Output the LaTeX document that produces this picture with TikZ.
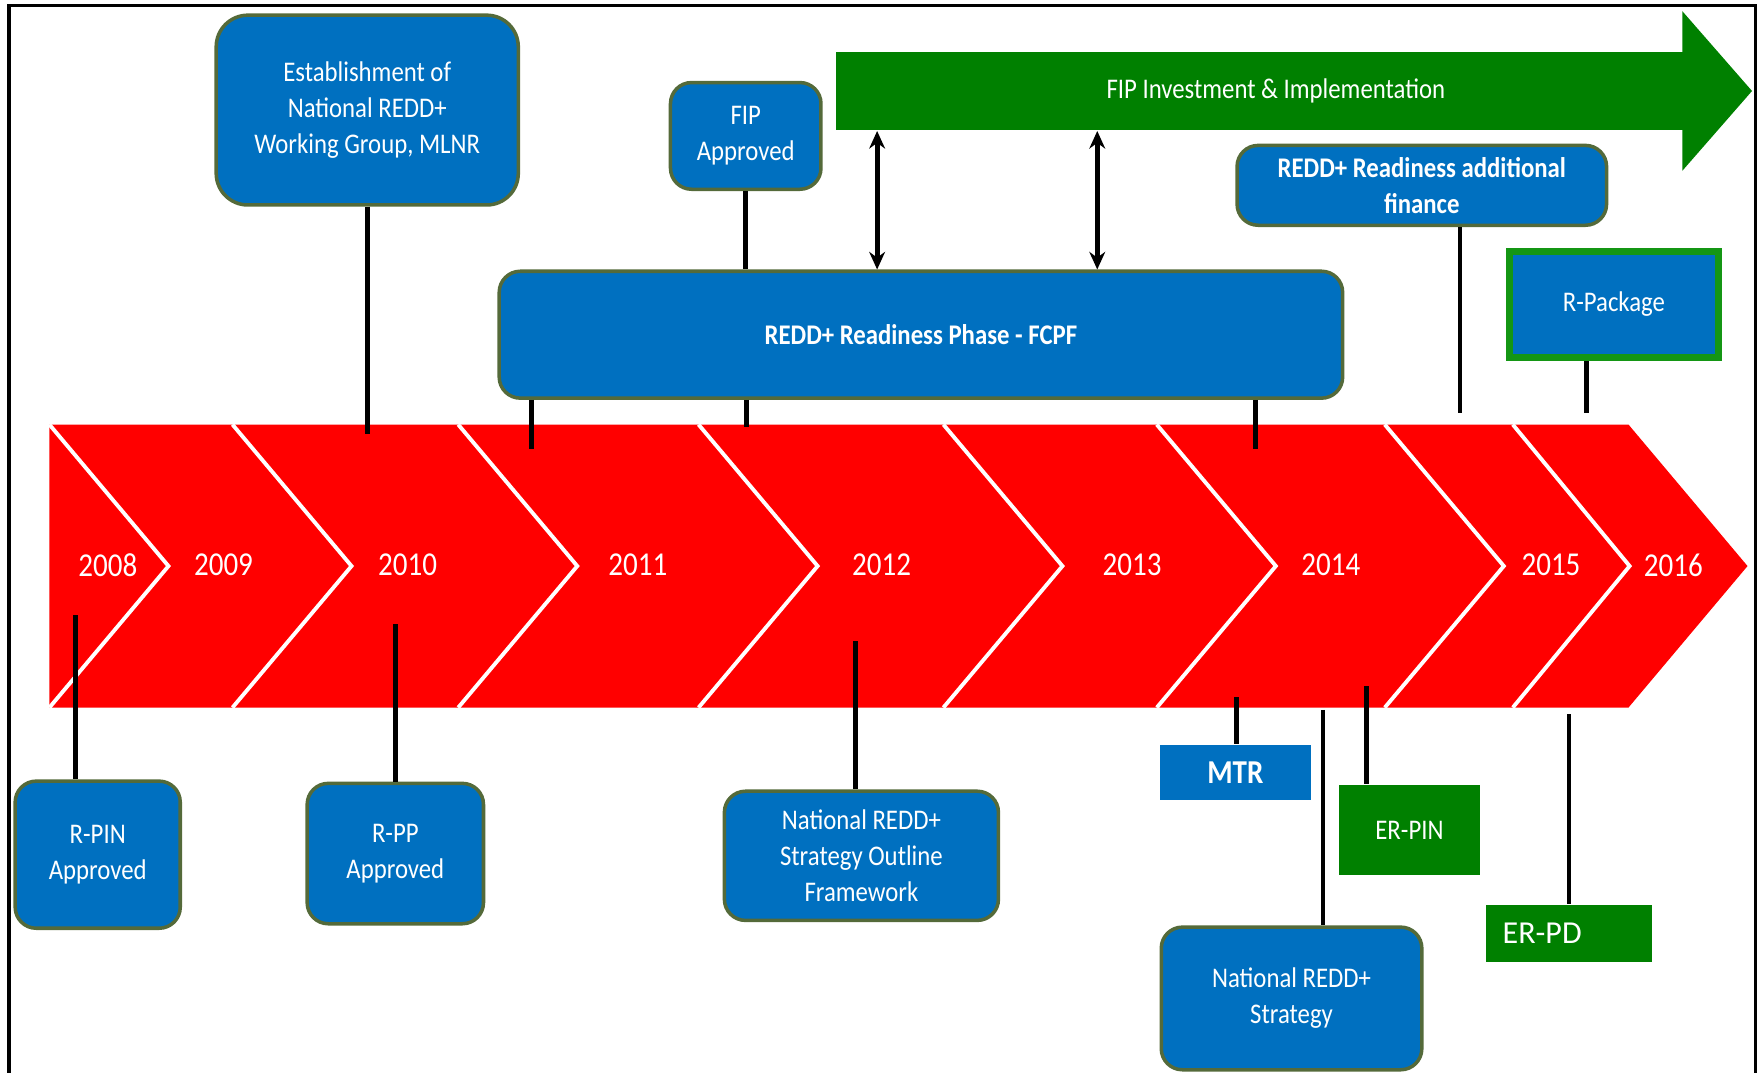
\documentclass[tikz,border=0pt]{standalone}
\usepackage{fontspec}
\setmainfont{Carlito}[FakeStretch=0.87]
\newfontfamily\plainfont{Carlito}
\usetikzlibrary{arrows.meta}
\definecolor{boxblue}{RGB}{0,112,192}
\definecolor{boxgreen}{RGB}{0,128,0}
\definecolor{bandred}{RGB}{255,0,0}
\definecolor{boxedge}{RGB}{84,106,58}
\definecolor{pkgedge}{RGB}{20,150,20}
\newcommand\pxu{0.011231cm}
\newcommand\boxfont{\fontsize{8.1}{10.3}\selectfont}
\newcommand\yearfont{\fontsize{9.5}{11}\selectfont}
\tikzset{
  boxsize/.style 2 args={minimum width=#1*\pxu, minimum height=#2*\pxu},
  stem/.style={draw=black, line width=1.4pt},
}
\begin{document}
\begin{tikzpicture}[x=\pxu, y=-\pxu]
  \useasboundingbox (0,0) rectangle (1568,955);
  \draw[line width=1pt] (8,955) -- (8,5) -- (1563,5) -- (1563,955);
  \begin{scope}
    \fill[bandred] (44,378) -- (1450,378) -- (1556,504) -- (1450,630) -- (44,630) -- cycle;
    \begin{scope}[draw=white, line width=1.1pt]
      \draw (44,378) -- (150,504) -- (44,630);
      \draw (207,378) -- (313,504) -- (207,630);
      \draw (408,378) -- (514,504) -- (408,630);
      \draw (622,378) -- (728,504) -- (622,630);
      \draw (840,378) -- (946,504) -- (840,630);
      \draw (1030,378) -- (1136,504) -- (1030,630);
      \draw (1233,378) -- (1339,504) -- (1233,630);
      \draw (1347,378) -- (1451,504) -- (1347,630);
    \end{scope}
    \begin{scope}[every node/.style={text=white, font=\yearfont}]
      \node (y2008) at (96,503) {2008};
      \node (y2009) at (199,503) {2009};
      \node (y2010) at (363,503) {2010};
      \node (y2011) at (568,503) {2011};
      \node (y2012) at (785,503) {2012};
      \node (y2013) at (1008,503) {2013};
      \node (y2014) at (1185,503) {2014};
      \node (y2015) at (1381,503) {2015};
      \node (y2016) at (1490,503) {2016};
    \end{scope}
  \end{scope}
  \node[fill=boxgreen, text=white, font=\boxfont, boxsize={784}{70}] (invest) at (1136,81) {FIP Investment \& Implementation};
  \fill[boxgreen] (1498,10) -- (1560,81) -- (1498,152) -- cycle;
  \begin{scope}[every node/.style={draw=boxedge, line width=1pt, fill=boxblue, rounded corners=6pt, text=white, align=center, font=\boxfont}]
    \node[boxsize={269}{169}, rounded corners=9pt] (est) at (327,98) {Establishment of\\National REDD+\\Working Group, MLNR};
    \node[boxsize={134}{95}] (fip) at (664,121) {FIP\\Approved};
    \node[boxsize={751}{113}, font=\boxfont\bfseries] (phase) at (820,298) {REDD+ Readiness Phase - FCPF};
    \node[boxsize={329}{70}, font=\boxfont\bfseries] (addfin) at (1266,165) {REDD+ Readiness additional\\finance};
    \node[boxsize={147}{131}] (rpin) at (87,761) {R-PIN\\Approved};
    \node[boxsize={157}{125}] (rpp) at (352,760) {R-PP\\Approved};
    \node[boxsize={244}{115}] (outline) at (767,762) {National REDD+\\Strategy Outline\\Framework};
    \node[boxsize={232}{127}] (strategy) at (1150,889) {National REDD+\\Strategy};
  \end{scope}
  \begin{scope}[every node/.style={fill=boxblue, text=white, align=center, font=\boxfont}]
    \node[boxsize={135}{49}, font=\yearfont\bfseries] (mtr) at (1100,688) {MTR};
    \node[boxsize={186}{95}, draw=pkgedge, line width=2pt] (rpkg) at (1437,271) {R-Package};
    \node[boxsize={126}{80}, fill=boxgreen] (erpin) at (1255,739) {ER-PIN};
    \node[fill=boxgreen, minimum height=51*\pxu, inner xsep=15*\pxu, text width=118*\pxu, align=left, font=\plainfont\fontsize{9.1}{11}\selectfont] (erpd) at (1397,831) {ER-PD};
  \end{scope}
  \coordinate (estfoot) at (327,386);
  \coordinate (phaseleg1) at (473,400);
  \coordinate (phaseleg2) at (665,380);
  \coordinate (phaseleg3) at (1118,400);
  \coordinate (addfinfoot) at (1300,368);
  \coordinate (rpkgfoot) at (1413,368);
  \coordinate (rpinhead) at (67,548);
  \coordinate (rpphead) at (352,556);
  \coordinate (outlinehead) at (762,571);
  \coordinate (mtrhead) at (1101,621);
  \coordinate (strategyhead) at (1178,632);
  \coordinate (erpinhead) at (1217,611);
  \coordinate (erpdhead) at (1397,636);
  \coordinate (link1) at (781,0);
  \coordinate (link2) at (977,0);
  \begin{scope}[every edge/.style={stem}]
    \path (est) edge (estfoot);
    \path (fip) edge (fip |- phase.north);
    \path (phaseleg1 |- phase.south) edge (phaseleg1);
    \path (phaseleg2 |- phase.south) edge (phaseleg2);
    \path (phaseleg3 |- phase.south) edge (phaseleg3);
    \path (addfinfoot |- addfin.south) edge (addfinfoot);
    \path (rpkgfoot |- rpkg.south) edge (rpkgfoot);
    \path (rpinhead) edge (rpinhead |- rpin.north);
    \path (rpphead) edge (rpp);
    \path (outlinehead) edge (outlinehead |- outline.north);
    \path (mtrhead) edge (mtrhead |- mtr.north);
    \path (strategyhead) edge (strategyhead |- strategy.north);
    \path (erpinhead) edge (erpinhead |- erpin.north);
    \path (erpdhead) edge (erpdhead |- erpd.north);
    \path (link1 |- invest.south) edge[{Stealth[length=5pt,width=4.5pt]}-{Stealth[length=5pt,width=4.5pt]}] (link1 |- phase.north);
    \path (link2 |- invest.south) edge[{Stealth[length=5pt,width=4.5pt]}-{Stealth[length=5pt,width=4.5pt]}] (link2 |- phase.north);
  \end{scope}
\end{tikzpicture}
\end{document}
